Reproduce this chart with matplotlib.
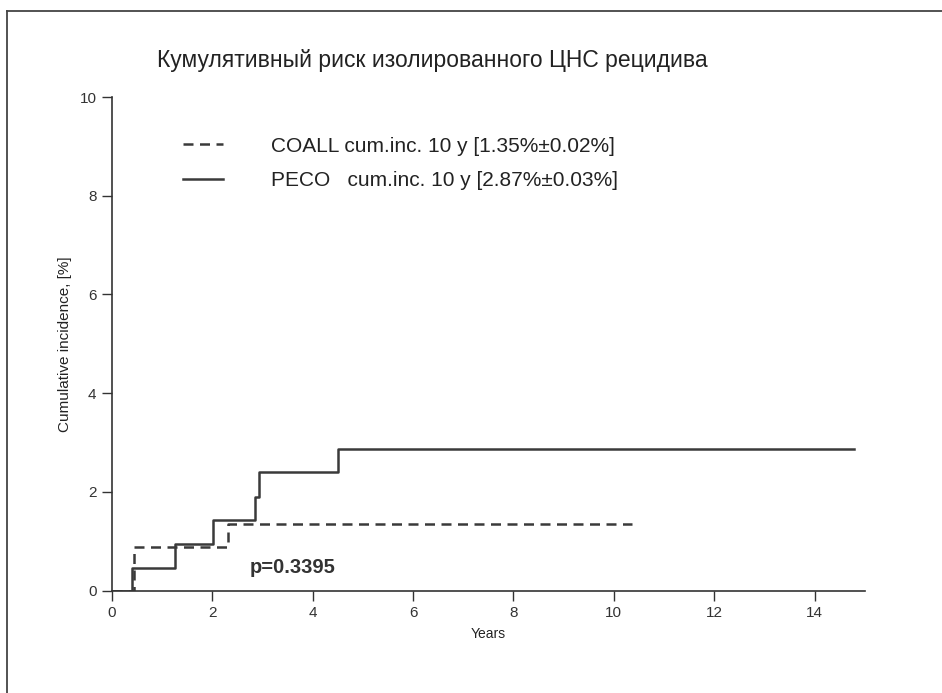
import matplotlib
matplotlib.use("Agg")
import matplotlib.pyplot as plt
from matplotlib.lines import Line2D

plt.rcParams['font.family'] = ['Liberation Sans', 'DejaVu Sans']

# data (years, cumulative incidence %)
coall_t = [0, 0.45, 2.32, 10.36]
coall_y = [0, 0.89, 1.36, 1.36]
peco_t = [0, 0.41, 1.26, 2.01, 2.85, 2.93, 4.50, 14.78]
peco_y = [0, 0.47, 0.95, 1.43, 1.90, 2.40, 2.87, 2.87]

labels = ['COALL cum.inc. 10 y [1.35%\u00b10.02%]',
          'PECO   cum.inc. 10 y [2.87%\u00b10.03%]']
title = 'Кумулятивный риск изолированного ЦНС рецидива'
xticks = [0, 2, 4, 6, 8, 10, 12, 14]
yticks = [0, 2, 4, 6, 8, 10]

col = '#3a3a3a'

fig = plt.figure(figsize=(9.42, 6.93), dpi=100)
ax = fig.add_axes([0.1186, 0.1476, 0.7996, 0.7124])

l1, = ax.step(coall_t, coall_y, where='post', color=col, lw=1.8,
              linestyle=(0, (4, 2.6)))
l2, = ax.step(peco_t, peco_y, where='post', color=col, lw=1.8)

ax.set_xlim(0, 15)
ax.set_ylim(0, 10)
ax.set_xticks(xticks)
ax.set_yticks(yticks)
for s in ['top', 'right']:
    ax.spines[s].set_visible(False)
for s in ['left', 'bottom']:
    ax.spines[s].set_color('#333333')
    ax.spines[s].set_linewidth(1.2)
ax.tick_params(direction='out', length=7, width=1, colors='#333333',
               labelsize=11, pad=4)
ax.set_xlabel('Years', fontsize=10, color='#222222', labelpad=5)
ax.set_ylabel('Cumulative incidence, [%]', fontsize=11, color='#222222', labelpad=5)

leg = ax.legend([l1, l2], labels, loc='upper left', bbox_to_anchor=(0.0947, 0.92),
                frameon=False, fontsize=15, handlelength=1.9, handletextpad=2.3,
                labelspacing=0.75, borderpad=0, borderaxespad=0)
for t in leg.get_texts():
    t.set_color('#222222')

ax.text(2.75, 0.48, 'p=0.3395', fontsize=14.5, fontweight='bold', color='#333333',
        va='center')

fig.text(0.459, 0.912, title, fontsize=16.5, ha='center', va='center',
         color='#222222')

# outer frame (left and top edges visible)
fig.add_artist(Line2D([0.0075, 0.0075], [0, 0.984], transform=fig.transFigure,
                      color='#444444', lw=1.3))
fig.add_artist(Line2D([0.0075, 1.0], [0.984, 0.984], transform=fig.transFigure,
                      color='#444444', lw=1.3))

fig.savefig('out.png', dpi=100)
